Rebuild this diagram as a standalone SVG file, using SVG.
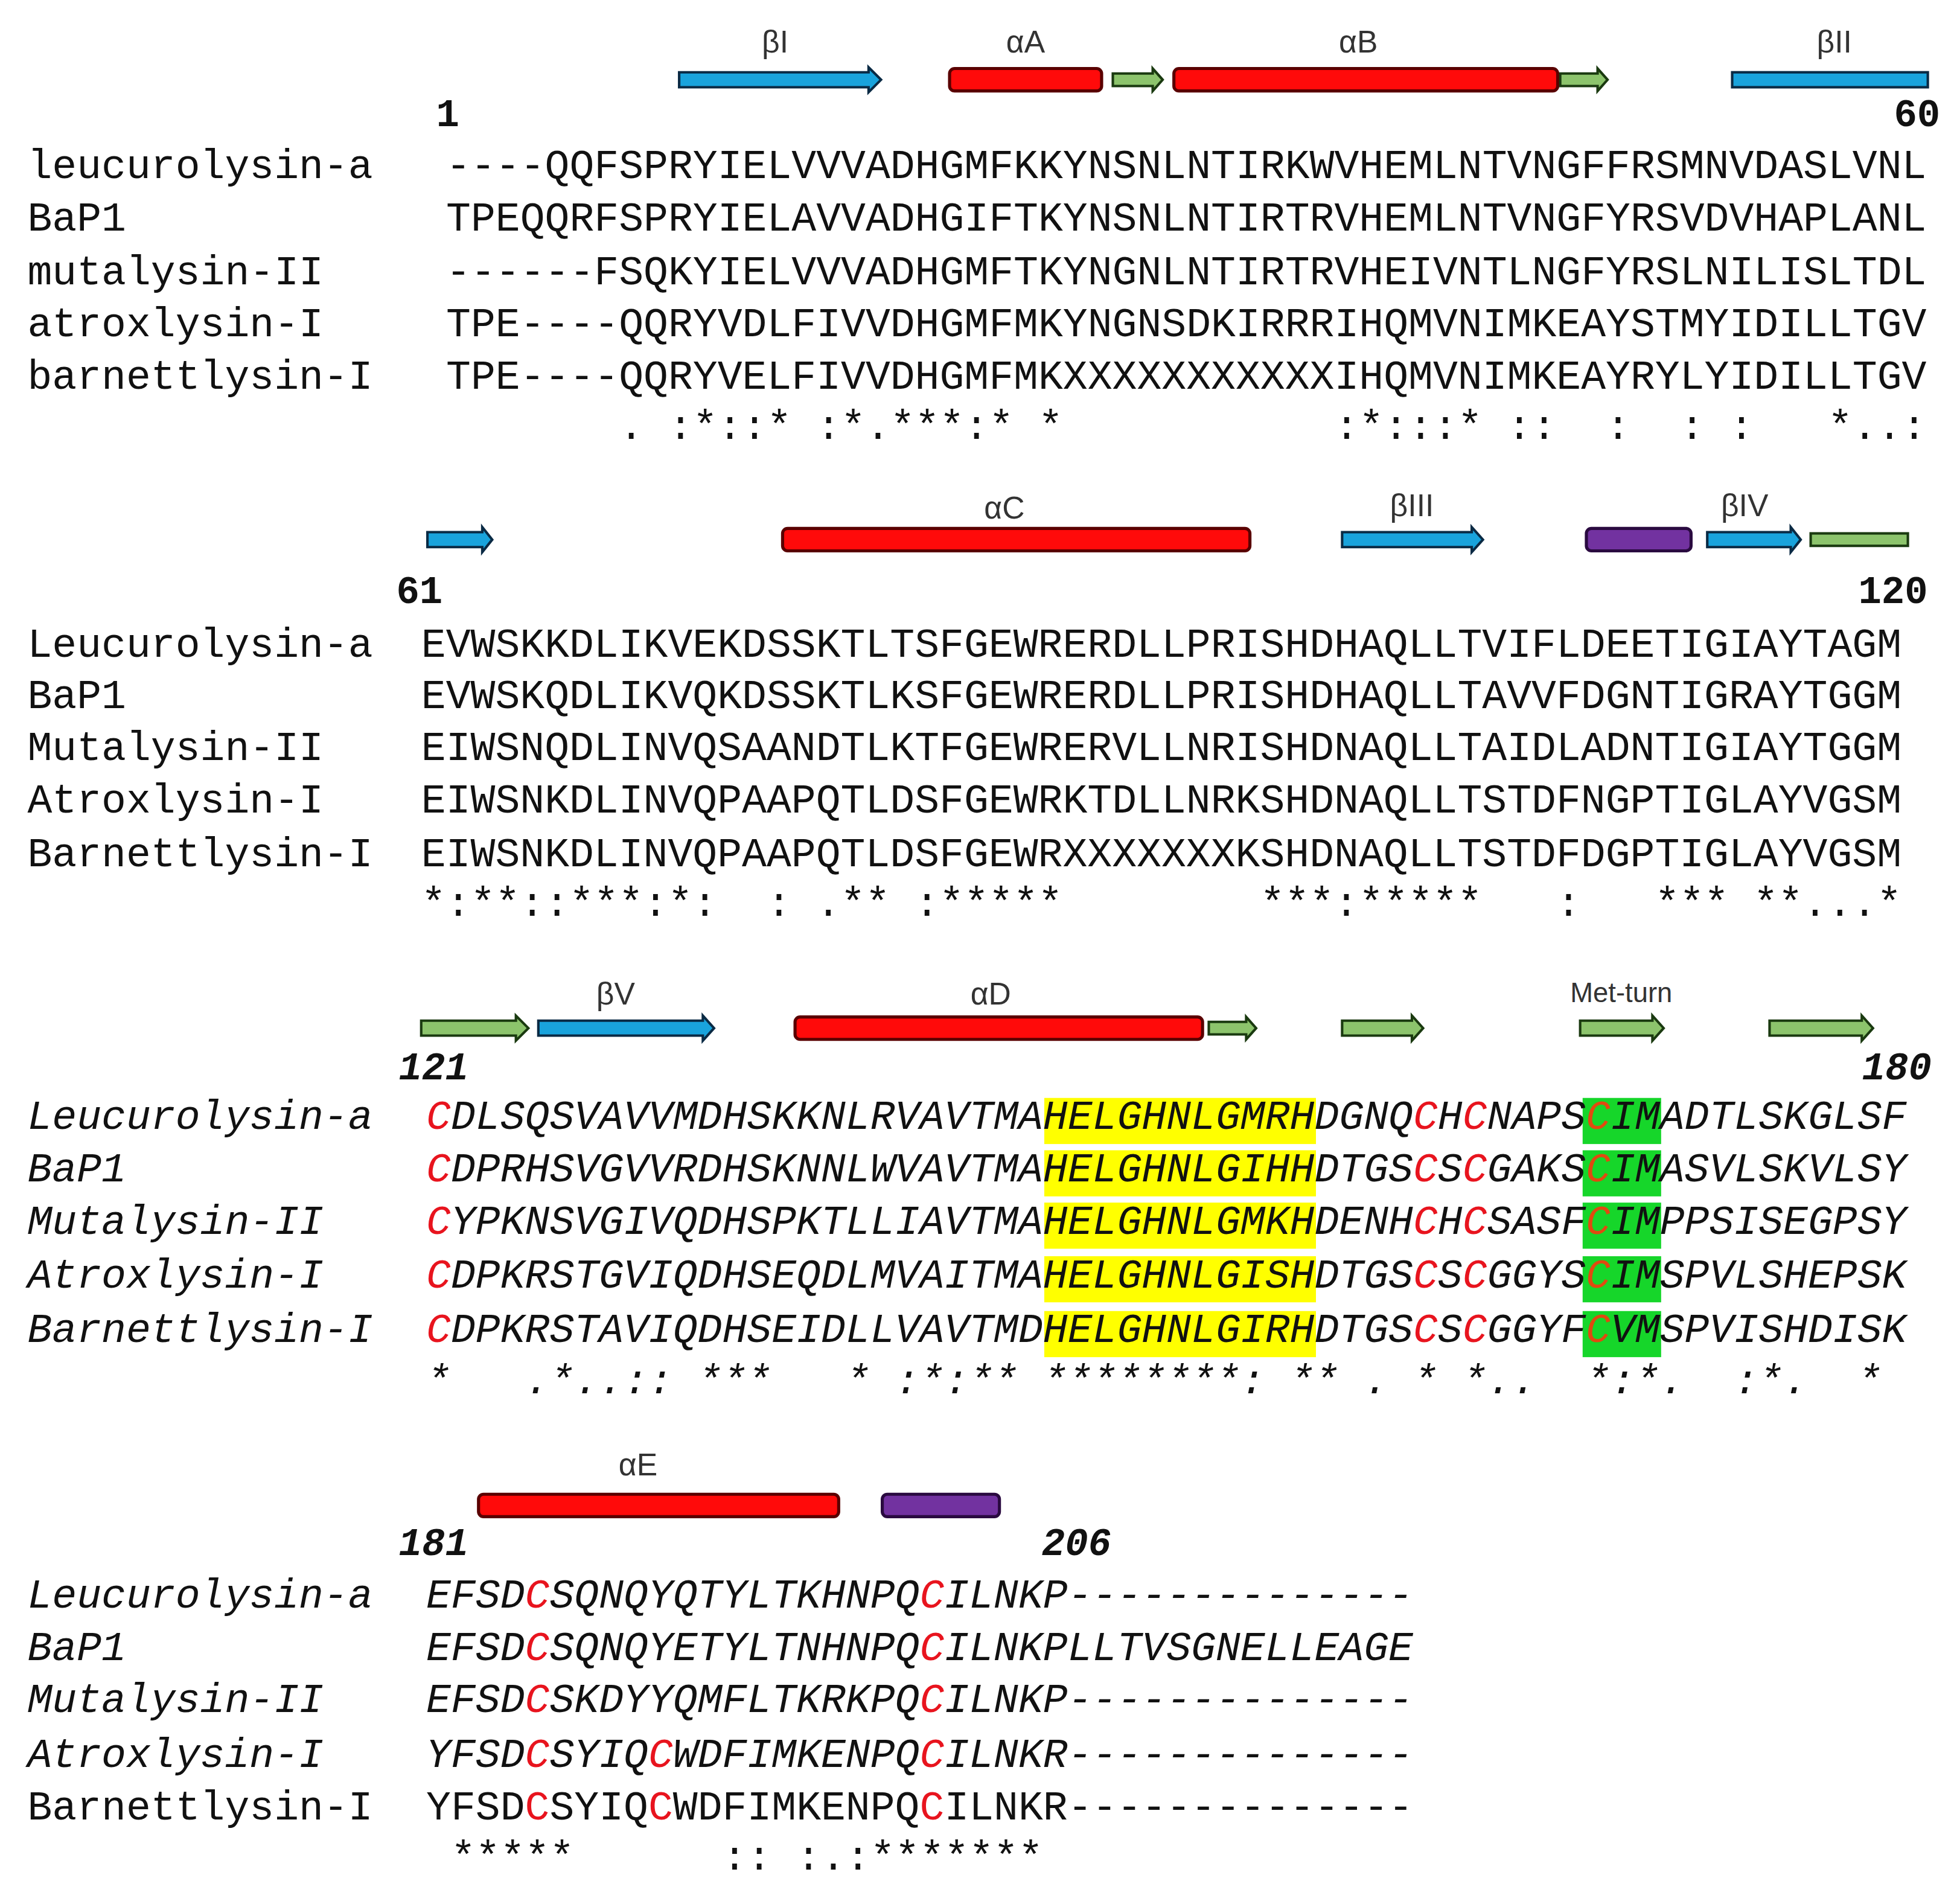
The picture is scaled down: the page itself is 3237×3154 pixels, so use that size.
<svg xmlns="http://www.w3.org/2000/svg" width="3237" height="3154" viewBox="0 0 3237 3154" xml:space="preserve">
<style>
text{white-space:pre}
.s{font-family:"Liberation Mono","Courier New",monospace;font-size:33px;fill:#111}
.i{font-style:italic}
.r{fill:#e8141e}
.o{fill:#e04a10}
.n{font-family:"Liberation Mono",monospace;font-size:31px;font-weight:bold;fill:#111}
.g{font-family:"Liberation Sans","DejaVu Sans",sans-serif;font-size:25px;fill:#333;text-anchor:middle}
.blue{fill:#19a3dc;stroke:#0a2a44;stroke-width:2}
.grn{fill:#8cc46c;stroke:#1a3a10;stroke-width:2}
.red{fill:#ff0a0a;stroke:#5a0000;stroke-width:2.5}
.pur{fill:#7232a0;stroke:#2a0a40;stroke-width:2.5}
.y{fill:#ffff00}
.gb{fill:#16d62a}
</style>
<rect width="3237" height="3154" fill="#fff"/>
<g transform="scale(2.0644)">
<g id="structure">
<path class="blue" d="M545,58 H697 V54 L707,64 L697,74 V70 H545 Z"/>
<rect class="red" x="762" y="55" width="122" height="18" rx="4"/>
<path class="grn" d="M893,59 H925 V55 L933,64 L925,73 V69 H893 Z"/>
<rect class="red" x="942" y="55" width="308" height="18" rx="4"/>
<path class="grn" d="M1252,59 H1282 V55 L1290,64 L1282,73 V69 H1252 Z"/>
<rect class="blue" x="1390" y="58" width="157" height="12"/>
<text class="g" x="622" y="42">βI</text>
<text class="g" x="823" y="42">αA</text>
<text class="g" x="1090" y="42">αB</text>
<text class="g" x="1472" y="42">βII</text>
<path class="blue" d="M343,427 H387 V423 L395,433 L387,443 V439 H343 Z"/>
<rect class="red" x="628" y="424" width="375" height="18" rx="4"/>
<path class="blue" d="M1077,427 H1181 V423 L1190,433 L1181,443 V439 H1077 Z"/>
<rect class="pur" x="1273" y="424" width="84" height="18" rx="4"/>
<path class="blue" d="M1370,427 H1437 V423 L1445,433 L1437,443 V439 H1370 Z"/>
<rect class="grn" x="1453" y="428" width="78" height="10"/>
<text class="g" x="806" y="416">αC</text>
<text class="g" x="1133" y="414">βIII</text>
<text class="g" x="1400" y="414">βIV</text>
<path class="grn" d="M338,819 H414 V815 L424,825 L414,835 V831 H338 Z"/>
<path class="blue" d="M432,819 H564 V815 L573,825 L564,835 V831 H432 Z"/>
<rect class="red" x="638" y="816" width="327" height="18" rx="4"/>
<path class="grn" d="M970,820 H1000 V816 L1008,825 L1000,834 V830 H970 Z"/>
<path class="grn" d="M1077,819 H1133 V815 L1142,825 L1133,835 V831 H1077 Z"/>
<path class="grn" d="M1268,819 H1326 V815 L1335,825 L1326,835 V831 H1268 Z"/>
<path class="grn" d="M1420,819 H1494 V815 L1503,825 L1494,835 V831 H1420 Z"/>
<text class="g" x="494" y="806">βV</text>
<text class="g" x="795" y="806">αD</text>
<text class="g" x="1301" y="804" style="font-size:22px">Met-turn</text>
<rect class="red" x="384" y="1199" width="289" height="18" rx="4"/>
<rect class="pur" x="708" y="1199" width="94" height="18" rx="4"/>
<text class="g" x="512" y="1184">αE</text>
</g>
<g id="numbers">
<text class="n" x="350" y="101">1</text>
<text class="n" x="1557" y="101" text-anchor="end">60</text>
<text class="n" x="318" y="484">61</text>
<text class="n" x="1547" y="484" text-anchor="end">120</text>
<text class="n i" x="320" y="866">121</text>
<text class="n i" x="1550" y="866" text-anchor="end">180</text>
<text class="n i" x="320" y="1248">181</text>
<text class="n i" x="836" y="1248">206</text>
</g>
<g id="block1">
<text class="s" x="22" y="143">leucurolysin-a</text>
<text class="s" x="22" y="185">BaP1</text>
<text class="s" x="22" y="228">mutalysin-II</text>
<text class="s" x="22" y="270">atroxlysin-I</text>
<text class="s" x="22" y="312">barnettlysin-I</text>
<text class="s" x="358" y="143">----QQFSPRYIELVVVADHGMFKKYNSNLNTIRKWVHEMLNTVNGFFRSMNVDASLVNL</text>
<text class="s" x="358" y="185">TPEQQRFSPRYIELAVVADHGIFTKYNSNLNTIRTRVHEMLNTVNGFYRSVDVHAPLANL</text>
<text class="s" x="358" y="228">------FSQKYIELVVVADHGMFTKYNGNLNTIRTRVHEIVNTLNGFYRSLNILISLTDL</text>
<text class="s" x="358" y="270">TPE----QQRYVDLFIVVDHGMFMKYNGNSDKIRRRIHQMVNIMKEAYSTMYIDILLTGV</text>
<text class="s" x="358" y="312">TPE----QQRYVELFIVVDHGMFMKXXXXXXXXXXXIHQMVNIMKEAYRYLYIDILLTGV</text>
<text class="s" x="358" y="352">       . :*::* :*.***:* *           :*:::* ::  :  : :   *..:</text>
</g>
<g id="block2">
<text class="s" x="22" y="527">Leucurolysin-a</text>
<text class="s" x="22" y="568">BaP1</text>
<text class="s" x="22" y="610">Mutalysin-II</text>
<text class="s" x="22" y="652">Atroxlysin-I</text>
<text class="s" x="22" y="695">Barnettlysin-I</text>
<text class="s" x="338" y="527">EVWSKKDLIKVEKDSSKTLTSFGEWRERDLLPRISHDHAQLLTVIFLDEETIGIAYTAGM</text>
<text class="s" x="338" y="568">EVWSKQDLIKVQKDSSKTLKSFGEWRERDLLPRISHDHAQLLTAVVFDGNTIGRAYTGGM</text>
<text class="s" x="338" y="610">EIWSNQDLINVQSAANDTLKTFGEWRERVLLNRISHDNAQLLTAIDLADNTIGIAYTGGM</text>
<text class="s" x="338" y="652">EIWSNKDLINVQPAAPQTLDSFGEWRKTDLLNRKSHDNAQLLTSTDFNGPTIGLAYVGSM</text>
<text class="s" x="338" y="695">EIWSNKDLINVQPAAPQTLDSFGEWRXXXXXXXKSHDNAQLLTSTDFDGPTIGLAYVGSM</text>
<text class="s" x="338" y="735">*:**::***:*:  : .** :*****        ***:*****   :   *** **...*</text>
</g>
<g id="block3">
<rect class="y" x="838" y="881" width="218" height="37"/>
<rect class="y" x="838" y="923" width="218" height="37"/>
<rect class="y" x="838" y="965" width="218" height="37"/>
<rect class="y" x="838" y="1008" width="218" height="37"/>
<rect class="y" x="838" y="1052" width="218" height="37"/>
<rect class="gb" x="1270" y="881" width="63" height="37"/>
<rect class="gb" x="1270" y="923" width="63" height="37"/>
<rect class="gb" x="1270" y="965" width="63" height="37"/>
<rect class="gb" x="1270" y="1008" width="63" height="37"/>
<rect class="gb" x="1270" y="1052" width="63" height="37"/>
<text class="s i" x="22" y="906">Leucurolysin-a</text>
<text class="s i" x="22" y="948">BaP1</text>
<text class="s i" x="22" y="990">Mutalysin-II</text>
<text class="s i" x="22" y="1033">Atroxlysin-I</text>
<text class="s i" x="22" y="1077">Barnettlysin-I</text>
<text class="s i" x="342" y="906"><tspan class="r">C</tspan>DLSQSVAVVMDHSKKNLRVAVTMAHELGHNLGMRHDGNQ<tspan class="r">C</tspan>H<tspan class="r">C</tspan>NAPS<tspan class="o">C</tspan>IMADTLSKGLSF</text>
<text class="s i" x="342" y="948"><tspan class="r">C</tspan>DPRHSVGVVRDHSKNNLWVAVTMAHELGHNLGIHHDTGS<tspan class="r">C</tspan>S<tspan class="r">C</tspan>GAKS<tspan class="o">C</tspan>IMASVLSKVLSY</text>
<text class="s i" x="342" y="990"><tspan class="r">C</tspan>YPKNSVGIVQDHSPKTLLIAVTMAHELGHNLGMKHDENH<tspan class="r">C</tspan>H<tspan class="r">C</tspan>SASF<tspan class="o">C</tspan>IMPPSISEGPSY</text>
<text class="s i" x="342" y="1033"><tspan class="r">C</tspan>DPKRSTGVIQDHSEQDLMVAITMAHELGHNLGISHDTGS<tspan class="r">C</tspan>S<tspan class="r">C</tspan>GGYS<tspan class="o">C</tspan>IMSPVLSHEPSK</text>
<text class="s i" x="342" y="1077"><tspan class="r">C</tspan>DPKRSTAVIQDHSEIDLLVAVTMDHELGHNLGIRHDTGS<tspan class="r">C</tspan>S<tspan class="r">C</tspan>GGYF<tspan class="o">C</tspan>VMSPVISHDISK</text>
<text class="s i" x="342" y="1118">*   .*..:: ***   * :*:** ********: ** . * *..  *:*.  :*.  *</text>
</g>
<g id="block4">
<text class="s i" x="22" y="1290">Leucurolysin-a</text>
<text class="s i" x="22" y="1332">BaP1</text>
<text class="s i" x="22" y="1374">Mutalysin-II</text>
<text class="s i" x="22" y="1418">Atroxlysin-I</text>
<text class="s" x="22" y="1460">Barnettlysin-I</text>
<text class="s i" x="342" y="1290">EFSD<tspan class="r">C</tspan>SQNQYQTYLTKHNPQ<tspan class="r">C</tspan>ILNKP--------------</text>
<text class="s i" x="342" y="1332">EFSD<tspan class="r">C</tspan>SQNQYETYLTNHNPQ<tspan class="r">C</tspan>ILNKPLLTVSGNELLEAGE</text>
<text class="s i" x="342" y="1374">EFSD<tspan class="r">C</tspan>SKDYYQMFLTKRKPQ<tspan class="r">C</tspan>ILNKP--------------</text>
<text class="s i" x="342" y="1418">YFSD<tspan class="r">C</tspan>SYIQ<tspan class="r">C</tspan>WDFIMKENPQ<tspan class="r">C</tspan>ILNKR--------------</text>
<text class="s" x="342" y="1460">YFSD<tspan class="r">C</tspan>SYIQ<tspan class="r">C</tspan>WDFIMKENPQ<tspan class="r">C</tspan>ILNKR--------------</text>
<text class="s" x="342" y="1500"> *****      :: :.:*******</text>
</g>
</g>
</svg>
